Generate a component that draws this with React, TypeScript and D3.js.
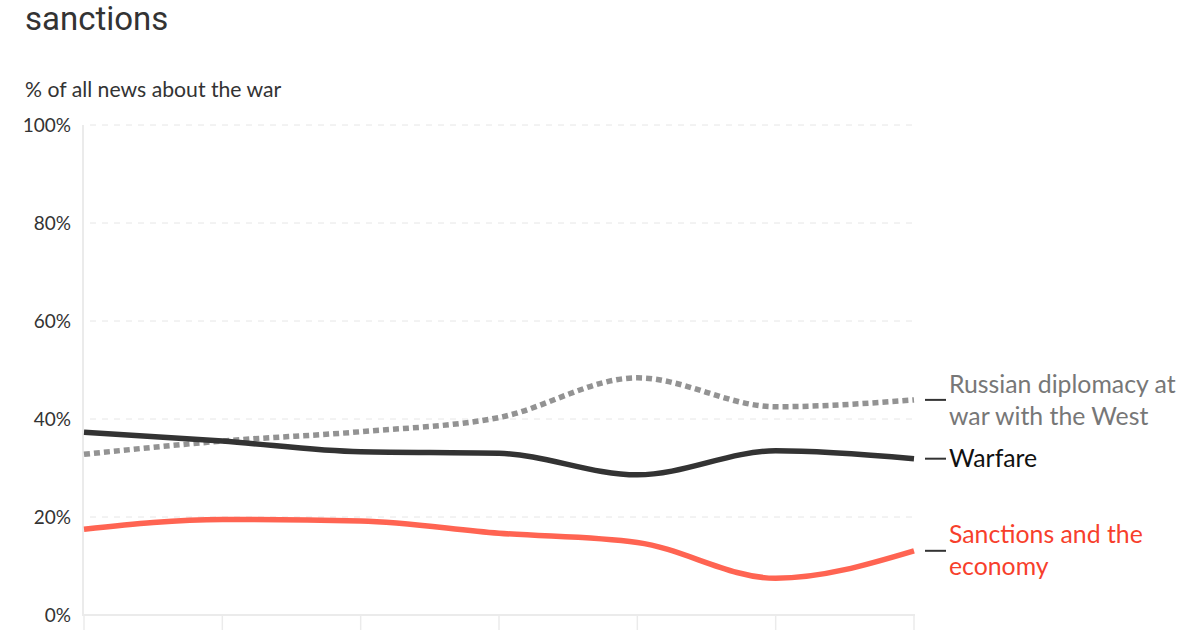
import React from "react";
import * as d3 from "d3";

const periods = ["P1", "P2", "P3", "P4", "P5", "P6", "P7"];
const warfare = [37.3, 35.5, 33.3, 33.0, 28.6, 33.5, 31.9];
const diplomacy = [32.8, 35.5, 37.4, 40.3, 48.4, 42.5, 43.9];
const sanctions = [17.5, 19.5, 19.2, 16.7, 14.8, 7.5, 13.1];
const yTicks = [0, 20, 40, 60, 80, 100];

const W = 1200;
const H = 630;

export default function App() {
  const x = d3.scalePoint<string>().domain(periods).range([84, 914]);
  const y = d3.scaleLinear().domain([0, 100]).range([615, 125]);
  const line = d3
    .line<number>()
    .x((_, i) => x(periods[i]) as number)
    .y((d) => y(d))
    .curve(d3.curveMonotoneX);

  const font = "Lato, 'Noto Sans', sans-serif";
  const last = periods.length - 1;

  const series = [
    { key: "dip", values: diplomacy, color: "#939393", dash: "6 4", lines: ["Russian diplomacy at", "war with the West"], textColor: "#777777" },
    { key: "war", values: warfare, color: "#333333", dash: undefined, lines: ["Warfare"], textColor: "#111111" },
    { key: "san", values: sanctions, color: "#ff6452", dash: undefined, lines: ["Sanctions and the", "economy"], textColor: "#f73f2c" },
  ];

  const lineGap = 32;

  return (
    <svg width={W} height={H} style={{ position: "absolute", left: 0, top: 0, background: "#fff" }}>
      <text x={25} y={30} fontFamily="Roboto, sans-serif" fontSize={33} fill="#333">
        sanctions
      </text>
      <text x={25} y={97} fontFamily={font} fontSize={21.2} fill="#333">
        % of all news about the war
      </text>

      {yTicks.map((t) => (
        <g key={t}>
          {t > 0 && (
            <line x1={90} x2={914} y1={y(t)} y2={y(t)} stroke="#e6e6e6" strokeWidth={1} strokeDasharray="6 6" />
          )}
          <text x={71} y={y(t)} dy="0.35em" textAnchor="end" fontFamily={font} fontSize={19} fill="#333">
            {t}%
          </text>
        </g>
      ))}

      <line x1={83} x2={83} y1={125} y2={616} stroke="#ebebeb" strokeWidth={2} />
      <line x1={82} x2={915} y1={615} y2={615} stroke="#ebebeb" strokeWidth={2} />
      {periods.map((p) => (
        <line key={p} x1={x(p)} x2={x(p)} y1={615} y2={640} stroke="#ebebeb" strokeWidth={1.5} />
      ))}

      {series.map((s) => (
        <path
          key={s.key}
          d={line(s.values) || ""}
          fill="none"
          stroke={s.color}
          strokeWidth={5.5}
          strokeDasharray={s.dash}
        />
      ))}

      {series.map((s) => {
        const yy = y(s.values[last]);
        const n = s.lines.length;
        return (
          <g key={s.key + "-lab"}>
            <line x1={925} x2={946} y1={yy} y2={yy} stroke="#333" strokeWidth={2} />
            {s.lines.map((l, i) => (
              <text
                key={i}
                x={949}
                y={yy + (i - (n - 1) / 2) * lineGap}
                dy="0.35em"
                fontFamily={font}
                fontSize={24.8}
                fill={s.textColor}
              >
                {l}
              </text>
            ))}
          </g>
        );
      })}
    </svg>
  );
}
